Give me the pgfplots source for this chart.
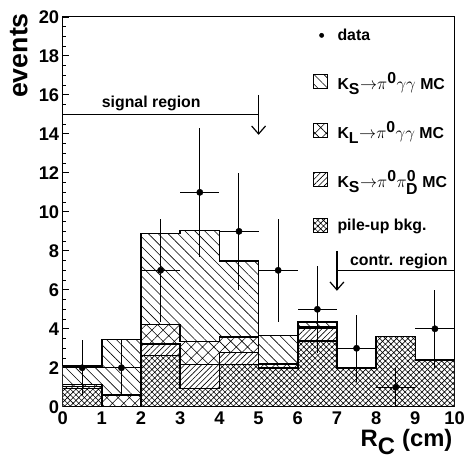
\documentclass[border=0pt]{standalone}
\usepackage{fontspec}
\setmainfont{Liberation Sans}
\usepackage{pgfplots}
\pgfplotsset{compat=1.18}
\usetikzlibrary{patterns.meta, arrows.meta}

% cumulative stacks, bottom to top: pile-up, KS->pi0pi0D, KL->pi0gg, KS->pi0gg
\pgfplotstableread{
x  pile  pipi  kl    ks
0  0.95  1.05  1.15  2.08
1  0.00  0.00  0.60  3.45
2  2.63  3.23  4.23  8.88
3  0.95  2.16  3.35  9.05
4  2.16  2.79  3.57  7.47
5  1.99  1.99  2.19  3.66
6  3.38  4.03  4.10  4.34
7  1.99  1.99  1.99  1.99
8  3.60  3.60  3.60  3.60
9  2.41  2.41  2.41  2.41
10 2.41  2.41  2.41  2.41
}\stacks

\begin{document}
\begin{tikzpicture}
\pgfplotsset{
  histo/.style={const plot, draw=black, line width=1.5bp, fill=white, area legend},
  boxlegend/.style={legend image code/.code={
    \draw[##1, line width=1bp] (0bp,-7bp) rectangle (14bp,7bp);}},
}
\begin{axis}[
  scale only axis, width=394bp, height=392bp,
  xmin=0, xmax=10, ymin=0, ymax=20,
  xtick={0,1,...,10}, ytick={0,2,...,20},
  minor y tick num=3, minor x tick num=0,
  tick align=inside, tick pos=left,
  major tick length=6bp, minor tick length=3.5bp,
  every tick/.style={black, line width=0.8bp},
  axis line style={line width=0.9bp},
  /pgf/number format/assume math mode=true,
  tick label style={font=\fontsize{18.5}{18.5}\selectfont\bfseries},
  xticklabel style={text height=13.5bp, text depth=0bp, yshift=-1bp},
  legend style={draw=none, fill=none, at={(axis cs:6.3,19.6)}, anchor=north west,
    font=\fontsize{16}{18}\selectfont\bfseries, row sep=26.5bp,
    /tikz/every odd column/.append style={column sep=8bp}},
  legend cell align=left,
]
\addlegendimage{only marks, mark=*, mark size=2.2bp, black}
\addlegendentry{data}

\addplot[histo, boxlegend, postaction={pattern={Lines[angle=-45,distance=7bp,line width=0.6bp]}}]
  table[x=x, y=ks] {\stacks} \closedcycle;
\addlegendentry{K$_{\textbf{S}}$$\rightarrow$$\pi^{\textbf{0}}\gamma\gamma$ MC}

\addplot[histo, boxlegend, postaction={pattern={Hatch[angle=45,distance=8bp,line width=0.6bp]}}]
  table[x=x, y=kl] {\stacks} \closedcycle;
\addlegendentry{K$_{\textbf{L}}$$\rightarrow$$\pi^{\textbf{0}}\gamma\gamma$ MC}

\addplot[histo, boxlegend, postaction={pattern={Lines[angle=45,distance=4bp,line width=0.6bp]}}]
  table[x=x, y=pipi] {\stacks} \closedcycle;
\addlegendentry{K$_{\textbf{S}}$$\rightarrow$$\pi^{\textbf{0}}\pi^{\textbf{0}}_{\textbf{D}}$ MC}

\addplot[histo, boxlegend, postaction={pattern={Hatch[angle=45,distance=4bp,line width=0.6bp]}}]
  table[x=x, y=pile] {\stacks} \closedcycle;
\addlegendentry{pile-up bkg.}

\addplot[forget plot, only marks, mark=*, mark size=3.2bp, black,
  error bars/.cd, x dir=both, x explicit, y dir=both, y explicit,
  error mark=none, error bar style={line width=1bp}]
  coordinates {
  (0.5,2)  +- (0.5,1.41)
  (1.5,2)  +- (0.5,1.41)
  (2.5,7)  +- (0.5,2.65)
  (3.5,11) +- (0.5,3.32)
  (4.5,9)  +- (0.5,3.00)
  (5.5,7)  +- (0.5,2.65)
  (6.5,5)  +- (0.5,2.24)
  (7.5,3)  +- (0.5,1.73)
  (8.5,1)  +- (0.5,1.00)
  (9.5,4)  +- (0.5,2.00)
  };

% region markers
\draw[line width=1.2bp] (axis cs:0,15) -- (axis cs:5,15);
\draw[line width=1.2bp, -{Straight Barb[length=8bp,width=14bp,line width=1.2bp]}]
  (axis cs:5,16) -- (axis cs:5,13.95);
\node[anchor=base, font=\fontsize{16}{18}\selectfont\bfseries, inner sep=0]
  at (axis cs:2.26,15.35) {signal region};
\draw[line width=1.2bp] (axis cs:7,7) -- (axis cs:10,7);
\draw[line width=1.2bp, -{Straight Barb[length=8bp,width=14bp,line width=1.2bp]}]
  (axis cs:7,8) -- (axis cs:7,5.95);
\node[anchor=base, font=\fontsize{16}{18}\selectfont\bfseries, inner sep=0]
  at (axis cs:8.58,7.25) {contr. region};

\coordinate (ll) at (rel axis cs:0,0);
\coordinate (ur) at (rel axis cs:1,1);
\end{axis}
\node[rotate=90, anchor=south east, inner sep=0, font=\fontsize{27}{27}\selectfont\bfseries]
  at ([shift={(-35bp,4bp)}]ll |- ur) {events};
\node[anchor=base east, inner sep=0, font=\fontsize{24}{24}\selectfont\bfseries]
  at ([shift={(-2bp,-40bp)}]ur |- ll) {R$_{\textbf{C}}$ (cm)};
\path ([shift={(-63bp,-53bp)}]ll) rectangle ([shift={(11bp,17bp)}]ur);
\end{tikzpicture}
\end{document}
